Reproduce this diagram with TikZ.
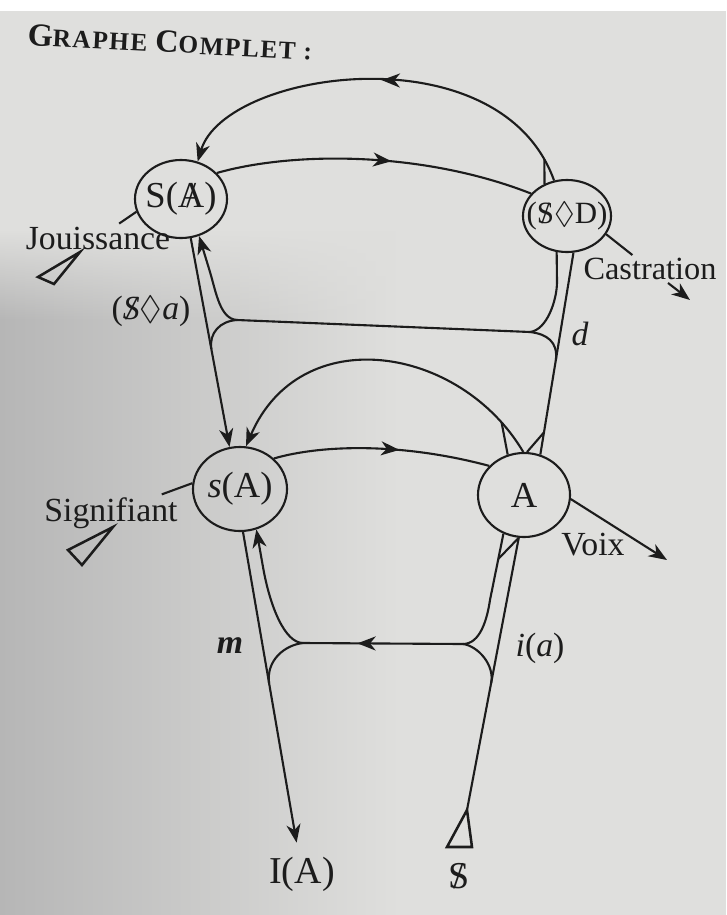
\documentclass[tikz,border=0pt]{standalone}
\usepackage{xcolor}
\usepackage{tikz}
\usetikzlibrary{arrows.meta,positioning,shapes.geometric,decorations.markings,calc,fadings}
\usepackage{amsmath}
\usepackage{amssymb}
\usepackage{fontspec}
\setmainfont{Liberation Serif}
\newfontfamily\capsfont[LetterSpace=6]{Liberation Serif}
\definecolor{ink}{RGB}{28,28,28}
\definecolor{paper}{RGB}{223,223,221}
\definecolor{shadow}{RGB}{182,182,182}
\newcommand{\barred}[1]{\ooalign{#1\cr\hidewidth/\hidewidth\cr}}

\begin{document}
\begin{tikzpicture}[
  x=0.025cm, y=-0.025cm,
  every node/.style={font=\fontsize{24}{28}\selectfont, text=ink, inner sep=2pt},
  place/.style={ellipse, draw=ink, line width=1.5pt, inner sep=0pt, font=\fontsize{26}{30}\selectfont},
  lbl/.style={inner sep=2pt},
  heading/.style={font=\capsfont\bfseries\fontsize{18}{22}\selectfont, rotate=-3},
  vec/.style={draw=ink, line width=1.5pt},
  arr/.style={-{Stealth[length=13pt, width=10pt, inset=4pt]}},
  midarrow/.style={postaction={decorate, decoration={markings, mark=at position #1 with {\arrow{Stealth[length=13pt, width=10pt, inset=4pt]}}}}},
  midarrow/.default=0.5,
  tailmark/.style={draw=ink, line width=1.8pt, line join=miter}
]
\fill[paper] (0,0) rectangle (726,915);
\fill[white] (0,0) rectangle (726,11);
\shade[left color=shadow, right color=paper] (0,320) rectangle (400,915);
\shade[left color=shadow, right color=paper, path fading=north] (0,230) rectangle (400,321);
\useasboundingbox (0,0) rectangle (726,915);

\node[heading] (title) at (170,42) {{\fontsize{23}{26}\selectfont G}RAPHE {\fontsize{23}{26}\selectfont C}OMPLET :};

\node[place, minimum width=2.3cm, minimum height=1.95cm] (sbA) at (181,199) {\makebox[0pt]{S(\barred{A})}};
\node[place, minimum width=2.2cm, minimum height=1.8cm] (sD) at (567,216) {\makebox[0pt]{\fontsize{22}{26}\selectfont(\barred{S}$\lozenge$D)}};
\node[place, minimum width=2.35cm, minimum height=2.1cm] (sA) at (240,489) {\makebox[0pt]{\textit{s}(A)}};
\node[place, minimum width=2.3cm, minimum height=2.1cm] (bigA) at (524,495) {\makebox[0pt]{A}};

\node[lbl] (jouis) at (98,238) {Jouissance};
\node[lbl] (sdiama) at (151,311) {(\textit{\barred{S}}$\lozenge$\textit{a})};
\node[lbl, font=\fontsize{23}{27}\selectfont] (castr) at (650,269) {Castration};
\node[lbl] (signif) at (111,513) {Signifiant};
\node[lbl] (voix) at (593,545) {Voix};
\node[lbl] (dlbl) at (580,334) {\textit{d}};
\node[lbl] (mlbl) at (230,646) {\textbf{\textit{m}}};
\node[lbl] (ialbl) at (540,648) {\textit{i}(\textit{a})};
\node[lbl, font=\fontsize{27}{30}\selectfont] (bigIA) at (302,874) {I(A)};
\node[lbl, font=\fontsize{27}{30}\selectfont] (sbar) at (459,876) {\barred{S}};

\coordinate (j1) at (237,320);
\coordinate (j2) at (530,332);
\coordinate (j3) at (303,643);
\coordinate (j4) at (463,644);
\coordinate (castrend) at (690,300);
\coordinate (voixend) at (667,560);
\coordinate (tailB) at (467,810);

\draw[vec, midarrow=0.55] (sbA.36) .. controls (290,152) and (420,150) .. (sD.148);
\draw[vec, arr, midarrow=0.5] (sD.110) .. controls (500,30) and (225,70) .. (sbA.66) coordinate[pos=0.05] (arcsD);
\draw[vec] (arcsD) -- (sD.125);
\draw[vec] (sbA.196) -- (jouis);
\draw[vec] (sD.-25) -- (castr);
\draw[vec, arr] (castr) -- (castrend);

\draw[vec, arr] (sbA.-76) -- (sA.104) coordinate[pos=0.53] (m1);
\draw[vec, arr] (j1) .. controls (220,319) and (216,292) .. (210,272) -- (sbA.-64);
\draw[vec] (j1) .. controls (220,321) and (209,333) .. (m1);
\draw[vec] (j1) -- (j2);
\draw[vec] (j2) .. controls (547,330) and (557,300) .. (557,282) -- (sD.-106);
\draw[vec] (sD.-80) -- (bigA.68) coordinate[pos=0.53] (m2) coordinate[pos=0.89] (dA);
\draw[vec] (j2) .. controls (547,334) and (558,342) .. (m2);
\draw[vec] (dA) -- (bigA.86);

\draw[vec, midarrow=0.58] (sA.42) .. controls (320,445) and (400,442) .. (bigA.140);
\draw[vec, arr] (bigA.91) .. controls (460,345) and (300,320) .. (sA.82) coordinate[pos=0.1] (arcA);
\draw[vec] (arcA) -- (bigA.112);
\draw[vec] (sA.173) -- (signif);
\draw[vec, arr] (bigA.-5) -- (voixend);

\draw[vec, arr, shorten >=8pt] (sA.-86) -- (bigIA) coordinate[pos=0.47] (m3);
\draw[vec, arr] (j3) .. controls (285,643) and (270,607) .. (263,567) -- (sA.-68);
\draw[vec] (j3) .. controls (285,645) and (266,660) .. (m3);
\draw[vec, midarrow=0.66] (j4) -- (j3);
\draw[vec] (j4) .. controls (480,644) and (487,620) .. (490,600) -- (bigA.-118) coordinate[pos=0.62] (r3);
\draw[vec] (bigA.-97) -- (r3);
\draw[vec] (tailB) -- (bigA.-97) coordinate[pos=0.465] (m4);
\draw[vec] (j4) .. controls (478,646) and (495,665) .. (m4);

\draw[tailmark] (38,277) -- (80,252) -- (54,284) -- cycle;
\draw[tailmark] (68,550) -- (113,527) -- (82,565) -- cycle;
\draw[tailmark] (447,847) -- (tailB) -- (472,847) -- cycle;
\end{tikzpicture}
\end{document}
